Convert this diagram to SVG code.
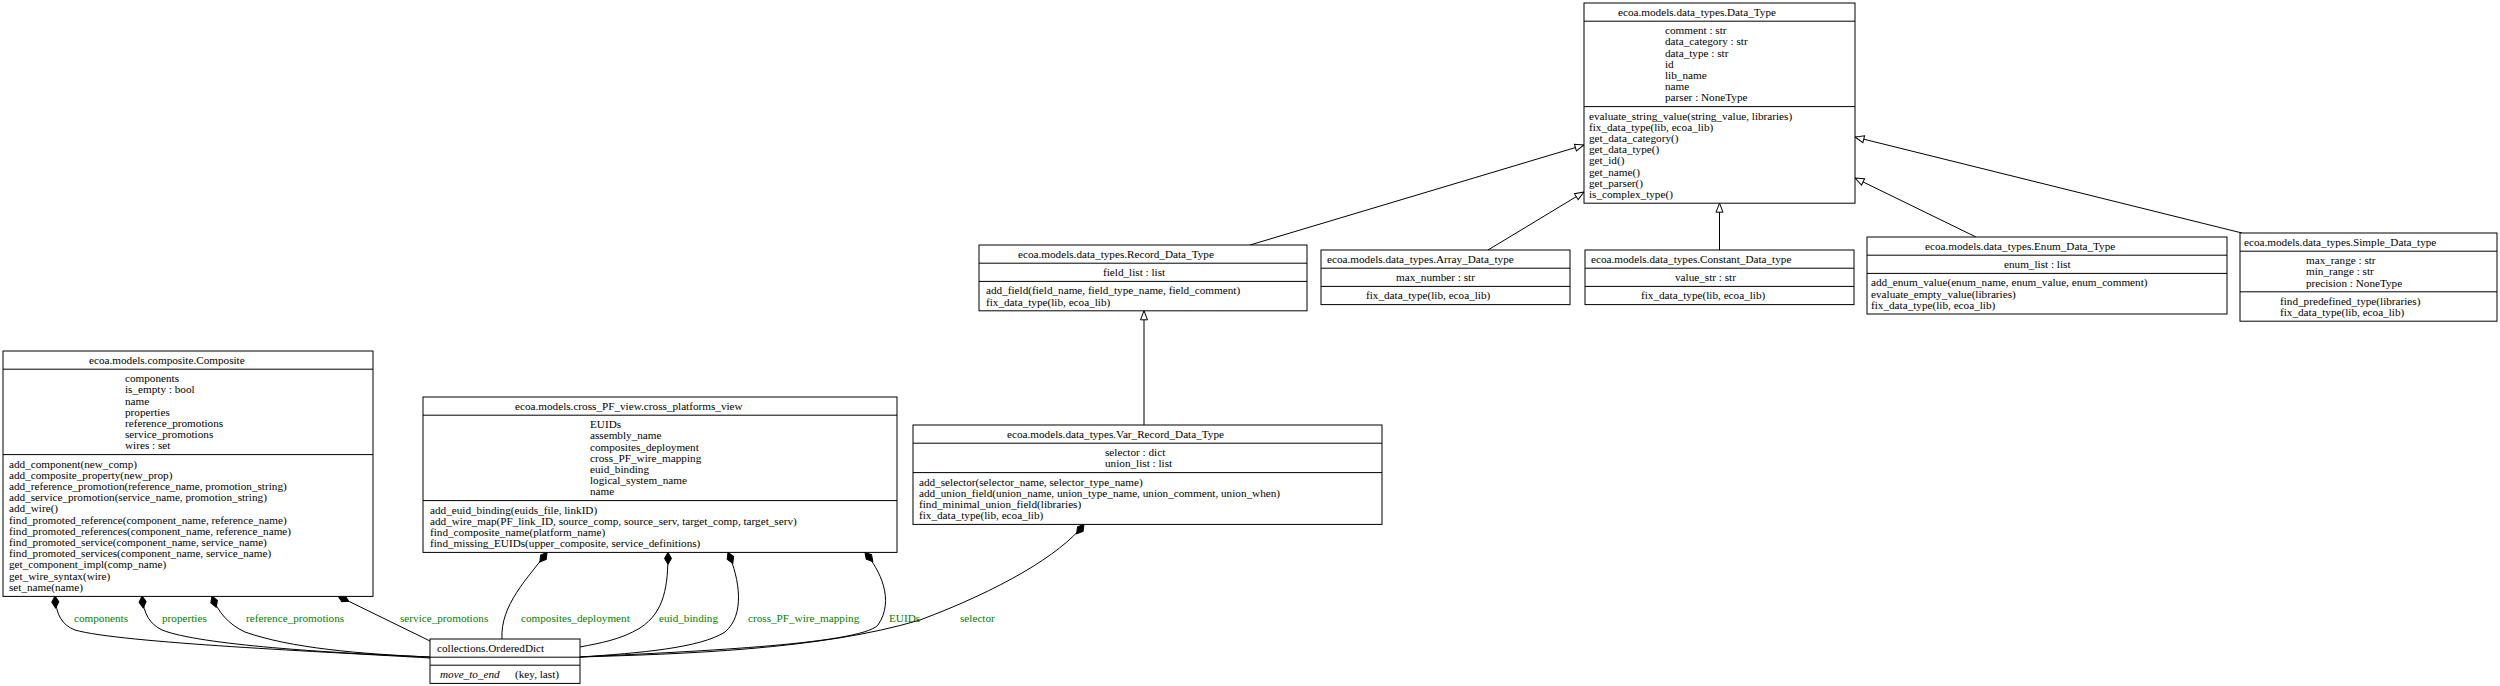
<svg xmlns="http://www.w3.org/2000/svg" width="2500" height="686" viewBox="0 0 2500 686">
<style>
text{font-family:"Liberation Serif","Times New Roman",serif;font-size:11.2px;fill:#000}
.box{fill:#fff;stroke:#000;stroke-width:1}
.div{stroke:#000;stroke-width:1}
.e{fill:none;stroke:#000;stroke-width:1}
.lbl{fill:green}
.it{font-style:italic}
</style>
<defs>
<marker id="tri" markerUnits="userSpaceOnUse" viewBox="-11 -5 12 10" markerWidth="12" markerHeight="10" refX="0" refY="0" orient="auto">
<path d="M0,0 L-9,-3.5 L-9,3.5 z" fill="#fff" stroke="#000" stroke-width="1"/>
</marker>
<marker id="dia" markerUnits="userSpaceOnUse" viewBox="-1 -5 14 10" markerWidth="14" markerHeight="10" refX="0" refY="0" orient="auto">
<path d="M0,0 L6,-3.5 L12,0 L6,3.5 z" fill="#000" stroke="#000" stroke-width="1"/>
</marker>
</defs>
<rect width="2500" height="686" fill="#fff"/>

<g id="connectors">
<path class="e" d="M1250,245 L1584,145" marker-end="url(#tri)"/>
<path class="e" d="M1488,250 L1584,192" marker-end="url(#tri)"/>
<path class="e" d="M1719.5,250 L1719.5,203.2" marker-end="url(#tri)"/>
<path class="e" d="M1976,237 L1855,178" marker-end="url(#tri)"/>
<path class="e" d="M2242,233 L1855,137" marker-end="url(#tri)"/>
<path class="e" d="M1144,425 L1144,310.8" marker-end="url(#tri)"/>

<path class="e" d="M55,596 C56,615 62,625 75,630 C120,643 330,652 430,658" marker-start="url(#dia)"/>
<path class="e" d="M142,596 C144,615 150,624 162,630 C200,645 330,653 430,657" marker-start="url(#dia)"/>
<path class="e" d="M212,596 C218,612 228,624 245,632 C290,648 360,654 430,657" marker-start="url(#dia)"/>
<path class="e" d="M338,596 L430,641" marker-start="url(#dia)"/>
<path class="e" d="M547,552.4 C528,578 500,605 502,639" marker-start="url(#dia)"/>
<path class="e" d="M668,552.4 C668,585 665,612 640,628 C620,640 600,643 580,647" marker-start="url(#dia)"/>
<path class="e" d="M728,552.4 C740,580 745,615 725,632 C700,648 640,653 580,657" marker-start="url(#dia)"/>
<path class="e" d="M865,552.4 C880,570 895,600 878,625 C860,645 680,652 580,657" marker-start="url(#dia)"/>
<path class="e" d="M1084,524.4 C1060,555 1000,590 920,620 C820,650 680,654 580,657" marker-start="url(#dia)"/>

<text class="lbl" x="74" y="621.8">components</text>
<text class="lbl" x="162" y="621.8">properties</text>
<text class="lbl" x="246" y="621.8">reference_promotions</text>
<text class="lbl" x="400" y="621.8">service_promotions</text>
<text class="lbl" x="521" y="621.8">composites_deployment</text>
<text class="lbl" x="659" y="621.8">euid_binding</text>
<text class="lbl" x="748" y="621.8">cross_PF_wire_mapping</text>
<text class="lbl" x="889" y="621.8">EUIDs</text>
<text class="lbl" x="960" y="621.8">selector</text>
</g>

<g id="Data_Type">
<rect class="box" x="1584" y="3" width="271" height="200.2"/>
<line class="div" x1="1584" y1="21.2" x2="1855" y2="21.2"/>
<line class="div" x1="1584" y1="106.6" x2="1855" y2="106.6"/>
<text x="1618" y="15.9">ecoa.models.data_types.Data_Type</text>
<text x="1665" y="34.1">comment : str</text>
<text x="1665" y="45.3">data_category : str</text>
<text x="1665" y="56.5">data_type : str</text>
<text x="1665" y="67.7">id</text>
<text x="1665" y="78.9">lib_name</text>
<text x="1665" y="90.1">name</text>
<text x="1665" y="101.3">parser : NoneType</text>
<text x="1589" y="119.5">evaluate_string_value(string_value, libraries)</text>
<text x="1589" y="130.7">fix_data_type(lib, ecoa_lib)</text>
<text x="1589" y="141.9">get_data_category()</text>
<text x="1589" y="153.1">get_data_type()</text>
<text x="1589" y="164.3">get_id()</text>
<text x="1589" y="175.5">get_name()</text>
<text x="1589" y="186.7">get_parser()</text>
<text x="1589" y="197.9">is_complex_type()</text>
</g>

<g id="Record_Data_Type">
<rect class="box" x="979" y="245" width="328" height="65.8"/>
<line class="div" x1="979" y1="263.2" x2="1307" y2="263.2"/>
<line class="div" x1="979" y1="281.4" x2="1307" y2="281.4"/>
<text x="1018" y="257.9">ecoa.models.data_types.Record_Data_Type</text>
<text x="1103" y="276.1">field_list : list</text>
<text x="986" y="294.3">add_field(field_name, field_type_name, field_comment)</text>
<text x="986" y="305.5">fix_data_type(lib, ecoa_lib)</text>
</g>

<g id="Array_Data_type">
<rect class="box" x="1321" y="250" width="249" height="54.6"/>
<line class="div" x1="1321" y1="268.2" x2="1570" y2="268.2"/>
<line class="div" x1="1321" y1="286.4" x2="1570" y2="286.4"/>
<text x="1327" y="262.9">ecoa.models.data_types.Array_Data_type</text>
<text x="1396" y="281.1">max_number : str</text>
<text x="1366" y="299.3">fix_data_type(lib, ecoa_lib)</text>
</g>

<g id="Constant_Data_type">
<rect class="box" x="1585" y="250" width="269" height="54.6"/>
<line class="div" x1="1585" y1="268.2" x2="1854" y2="268.2"/>
<line class="div" x1="1585" y1="286.4" x2="1854" y2="286.4"/>
<text x="1591" y="262.9">ecoa.models.data_types.Constant_Data_type</text>
<text x="1675" y="281.1">value_str : str</text>
<text x="1641" y="299.3">fix_data_type(lib, ecoa_lib)</text>
</g>

<g id="Enum_Data_Type">
<rect class="box" x="1867" y="237" width="360" height="77"/>
<line class="div" x1="1867" y1="255.2" x2="2227" y2="255.2"/>
<line class="div" x1="1867" y1="273.4" x2="2227" y2="273.4"/>
<text x="1925" y="249.9">ecoa.models.data_types.Enum_Data_Type</text>
<text x="2004" y="268.1">enum_list : list</text>
<text x="1871" y="286.3">add_enum_value(enum_name, enum_value, enum_comment)</text>
<text x="1871" y="297.5">evaluate_empty_value(libraries)</text>
<text x="1871" y="308.7">fix_data_type(lib, ecoa_lib)</text>
</g>

<g id="Simple_Data_type">
<rect class="box" x="2240" y="233" width="257" height="88.2"/>
<line class="div" x1="2240" y1="251.2" x2="2497" y2="251.2"/>
<line class="div" x1="2240" y1="291.8" x2="2497" y2="291.8"/>
<text x="2244" y="245.9">ecoa.models.data_types.Simple_Data_type</text>
<text x="2306" y="264.1">max_range : str</text>
<text x="2306" y="275.3">min_range : str</text>
<text x="2306" y="286.5">precision : NoneType</text>
<text x="2280" y="304.7">find_predefined_type(libraries)</text>
<text x="2280" y="315.9">fix_data_type(lib, ecoa_lib)</text>
</g>

<g id="Var_Record_Data_Type">
<rect class="box" x="913" y="425" width="469" height="99.4"/>
<line class="div" x1="913" y1="443.2" x2="1382" y2="443.2"/>
<line class="div" x1="913" y1="472.6" x2="1382" y2="472.6"/>
<text x="1007" y="437.9">ecoa.models.data_types.Var_Record_Data_Type</text>
<text x="1105" y="456.1">selector : dict</text>
<text x="1105" y="467.3">union_list : list</text>
<text x="919" y="485.5">add_selector(selector_name, selector_type_name)</text>
<text x="919" y="496.7">add_union_field(union_name, union_type_name, union_comment, union_when)</text>
<text x="919" y="507.9">find_minimal_union_field(libraries)</text>
<text x="919" y="519.1">fix_data_type(lib, ecoa_lib)</text>
</g>

<g id="cross_platforms_view">
<rect class="box" x="423" y="397" width="474" height="155.4"/>
<line class="div" x1="423" y1="415.2" x2="897" y2="415.2"/>
<line class="div" x1="423" y1="500.6" x2="897" y2="500.6"/>
<text x="515" y="409.9">ecoa.models.cross_PF_view.cross_platforms_view</text>
<text x="590" y="428.1">EUIDs</text>
<text x="590" y="439.3">assembly_name</text>
<text x="590" y="450.5">composites_deployment</text>
<text x="590" y="461.7">cross_PF_wire_mapping</text>
<text x="590" y="472.9">euid_binding</text>
<text x="590" y="484.1">logical_system_name</text>
<text x="590" y="495.3">name</text>
<text x="430" y="513.5">add_euid_binding(euids_file, linkID)</text>
<text x="430" y="524.7">add_wire_map(PF_link_ID, source_comp, source_serv, target_comp, target_serv)</text>
<text x="430" y="535.9">find_composite_name(platform_name)</text>
<text x="430" y="547.1">find_missing_EUIDs(upper_composite, service_definitions)</text>
</g>

<g id="Composite">
<rect class="box" x="3" y="351" width="370" height="245.4"/>
<line class="div" x1="3" y1="369.2" x2="373" y2="369.2"/>
<line class="div" x1="3" y1="454.6" x2="373" y2="454.6"/>
<text x="89" y="363.9">ecoa.models.composite.Composite</text>
<text x="125" y="382.1">components</text>
<text x="125" y="393.3">is_empty : bool</text>
<text x="125" y="404.5">name</text>
<text x="125" y="415.7">properties</text>
<text x="125" y="426.9">reference_promotions</text>
<text x="125" y="438.1">service_promotions</text>
<text x="125" y="449.3">wires : set</text>
<text x="9" y="467.5">add_component(new_comp)</text>
<text x="9" y="478.7">add_composite_property(new_prop)</text>
<text x="9" y="489.9">add_reference_promotion(reference_name, promotion_string)</text>
<text x="9" y="501.1">add_service_promotion(service_name, promotion_string)</text>
<text x="9" y="512.3">add_wire()</text>
<text x="9" y="523.5">find_promoted_reference(component_name, reference_name)</text>
<text x="9" y="534.7">find_promoted_references(component_name, reference_name)</text>
<text x="9" y="545.9">find_promoted_service(component_name, service_name)</text>
<text x="9" y="557.1">find_promoted_services(component_name, service_name)</text>
<text x="9" y="568.3">get_component_impl(comp_name)</text>
<text x="9" y="579.5">get_wire_syntax(wire)</text>
<text x="9" y="590.7">set_name(name)</text>
</g>

<g id="OrderedDict">
<rect class="box" x="430" y="639" width="150" height="44.4"/>
<line class="div" x1="430" y1="657.2" x2="580" y2="657.2"/>
<line class="div" x1="430" y1="665.2" x2="580" y2="665.2"/>
<text x="437" y="651.9">collections.OrderedDict</text>
<text x="440" y="678.1"><tspan class="it">move_to_end</tspan></text>
<text x="515" y="678.1">(key, last)</text>
</g>
</svg>
